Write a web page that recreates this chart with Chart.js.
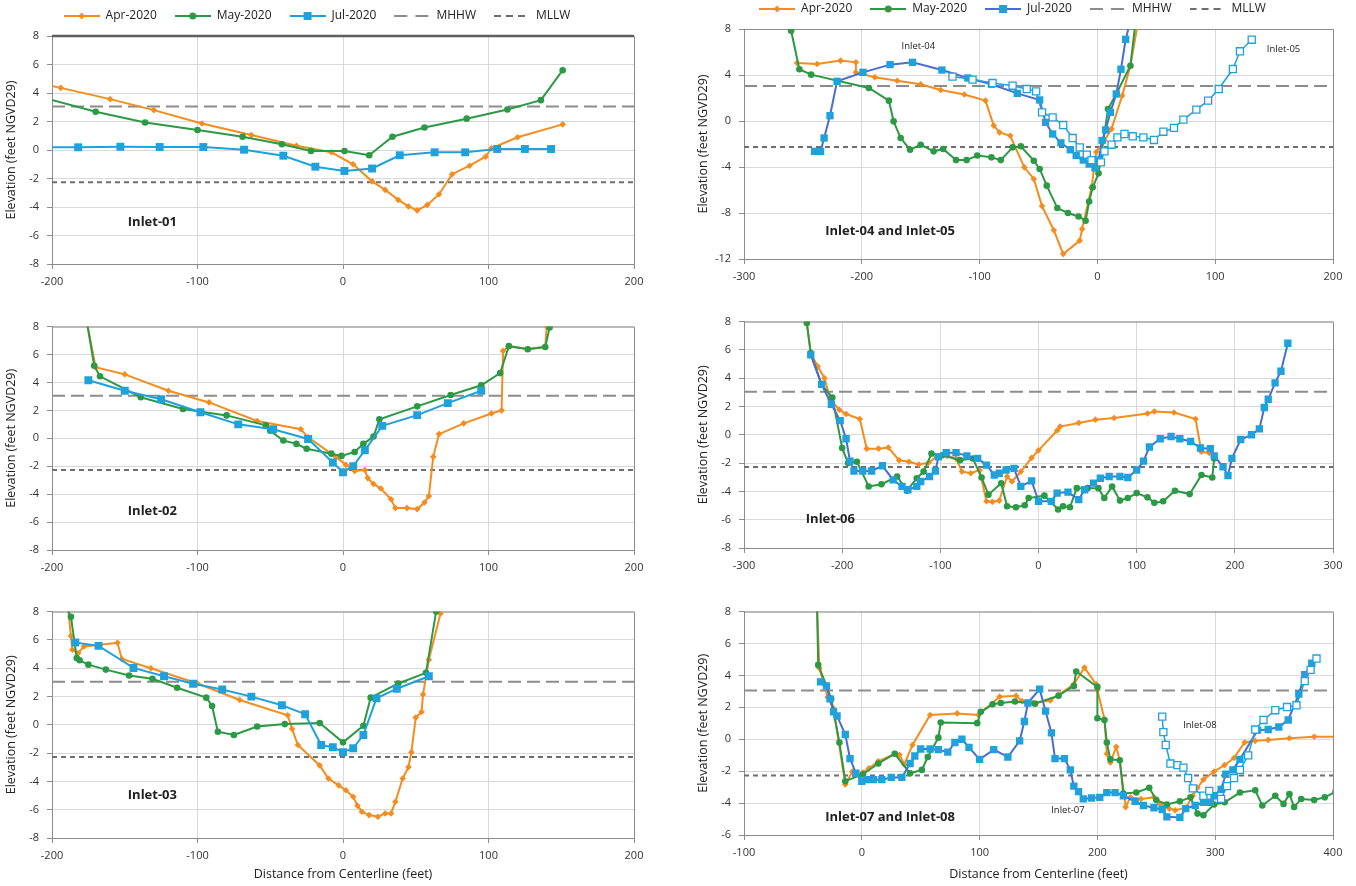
<!DOCTYPE html>
<html>
<head>
<meta charset="utf-8">
<script src="https://cdn.jsdelivr.net/npm/chart.js@4.4.1/dist/chart.umd.min.js"></script>
<style>
  html, body { margin: 0; padding: 0; background: #fff; width: 1356px; height: 886px; overflow: hidden; }
  canvas { position: absolute; }
</style>
</head>
<body>
<canvas id="inlet01"></canvas>
<canvas id="inlet0405"></canvas>
<canvas id="inlet02"></canvas>
<canvas id="inlet06"></canvas>
<canvas id="inlet03"></canvas>
<canvas id="inlet0708"></canvas>
<script>
// tidal datums (feet NGVD29)
const MHHW = 3.05;
const MLLW = -2.27;

const seriesNames = ['Apr-2020', 'May-2020', 'Jul-2020', 'MHHW', 'MLLW'];

// [distance from centerline, elevation]
const inlet01Apr = [[-205,4.6],[-194,4.36],[-160,3.57],[-130,2.8],[-97,1.86],[-63,1.05],[-32,0.3],[-8,-0.16],[7,-1.0],[20,-2.2],[29,-2.8],[38,-3.5],[45,-3.96],[51,-4.24],[58,-3.85],[66,-3.1],[75,-1.7],[87,-1.1],[98,-0.47],[102,0.12],[120,0.89],[151,1.8]];
const inlet01May = [[-205,3.65],[-170,2.68],[-136,1.93],[-100,1.4],[-69,0.93],[-42,0.4],[-22,-0.07],[1,-0.07],[18,-0.37],[34,0.93],[56,1.58],[85,2.2],[113,2.84],[136,3.5],[151,5.6]];
const inlet01Jul = [[-205,0.2],[-182,0.19],[-153,0.23],[-126,0.21],[-96,0.21],[-68,0.02],[-41,-0.4],[-19,-1.17],[1,-1.47],[20,-1.3],[39,-0.37],[63,-0.16],[84,-0.16],[106,0.07],[125,0.07],[143,0.07]];

const inlet02Apr = [[-176,8.3],[-170,5.09],[-150,4.58],[-120,3.41],[-92,2.57],[-59,1.24],[-29,0.65],[-24,0.07],[-5,-1.33],[2,-1.9],[8,-2.34],[15,-2.27],[17,-2.85],[21,-3.27],[26,-3.6],[33,-4.37],[36,-5.0],[44,-5.0],[51,-5.07],[56,-4.6],[59,-4.14],[62,-1.33],[66,0.3],[83,1.07],[102,1.78],[109,2.0],[110,6.26],[114,6.6],[127,6.4],[139,6.55],[140,8.0]];
const inlet02May = [[-176,8.3],[-171,5.2],[-167,4.44],[-139,2.94],[-110,2.1],[-80,1.64],[-53,0.93],[-50,0.54],[-41,-0.16],[-32,-0.4],[-25,-0.75],[-8,-1.1],[-1,-1.26],[8,-0.98],[14,-0.4],[21,0.12],[25,1.36],[51,2.29],[74,3.1],[95,3.8],[108,4.67],[114,6.6],[127,6.38],[139,6.54],[142,7.94]];
const inlet02Jul = [[-175,4.16],[-150,3.41],[-125,2.8],[-98,1.87],[-72,1.0],[-48,0.65],[-24,-0.05],[-7,-1.73],[0,-2.43],[7,-1.99],[15,-0.86],[27,0.89],[51,1.66],[72,2.52],[95,3.41]];

const inlet03Apr = [[-189,8.3],[-187,6.28],[-186,5.3],[-182,5.07],[-178,5.54],[-155,5.8],[-152,4.65],[-132,4.0],[-100,2.92],[-71,1.75],[-38,0.68],[-35,-0.3],[-31,-1.43],[-16,-2.87],[-10,-3.8],[-3,-4.28],[2,-4.63],[7,-5.09],[10,-5.72],[13,-6.14],[18,-6.38],[24,-6.5],[29,-6.26],[33,-6.26],[36,-5.44],[41,-3.8],[45,-2.99],[47,-1.94],[50,0.51],[54,0.91],[55,2.15],[59,4.6],[67,7.87]];
const inlet03May = [[-190,8.3],[-187,7.64],[-183,4.72],[-181,4.56],[-175,4.25],[-163,3.9],[-147,3.48],[-131,3.25],[-114,2.62],[-94,1.92],[-90,1.33],[-86,-0.49],[-75,-0.72],[-59,-0.12],[-40,0.05],[-16,0.12],[0,-1.24],[14,-0.07],[19,1.92],[38,2.92],[57,3.67],[64,8.0]];
const inlet03Jul = [[-184,5.82],[-168,5.58],[-144,4.02],[-123,3.43],[-103,2.9],[-83,2.5],[-63,1.99],[-42,1.38],[-26,0.75],[-15,-1.43],[-7,-1.59],[0,-1.94],[7,-1.66],[14,-0.72],[23,1.87],[37,2.55],[59,3.43]];

const inlet04Apr = [[-255,5.04],[-238,4.96],[-218,5.25],[-205,5.1],[-205,4.23],[-189,3.8],[-170,3.5],[-150,3.2],[-133,2.7],[-113,2.3],[-95,1.77],[-88,-0.4],[-83,-1.0],[-74,-1.28],[-62,-4.03],[-54,-5.04],[-47,-7.4],[-37,-9.5],[-29,-11.57],[-15,-10.4],[-13,-9.4],[-5,-5.8],[-1,-2.7],[6,-1.7],[12,-0.7],[21,2.2],[28,4.8],[34,8.3]];
const inlet04May = [[-261,8.3],[-260,7.85],[-253,4.5],[-243,4.03],[-194,2.87],[-177,1.77],[-173,-0.03],[-167,-1.48],[-159,-2.5],[-150,-2.06],[-139,-2.64],[-131,-2.43],[-120,-3.4],[-111,-3.4],[-102,-3.0],[-90,-3.16],[-82,-3.4],[-72,-2.29],[-65,-2.2],[-54,-3.45],[-49,-4.17],[-43,-5.62],[-34,-7.57],[-25,-8.0],[-16,-8.3],[-10,-8.67],[-7,-7.0],[-4,-5.77],[1,-4.55],[9,1.04],[16,2.35],[28,4.8],[32,8.3]];
const inlet04Jul = [[-240,-2.64],[-235,-2.64],[-232,-1.48],[-227,0.46],[-221,3.45],[-199,4.23],[-176,4.9],[-157,5.1],[-132,4.43],[-110,3.74],[-90,3.2],[-68,2.4],[-49,1.83],[-44,-0.12],[-38,-1.13],[-31,-1.9],[-23,-2.5],[-18,-3.0],[-12,-3.4],[-7,-3.74],[-2,-4.08],[1,-3.4],[4,-1.7],[7,-0.78],[11,0.75],[16,2.35],[20,4.5],[24,7.1],[27,8.3]];
const inlet05Jul = [[-123,3.86],[-106,3.6],[-89,3.3],[-72,3.07],[-60,2.78],[-52,2.58],[-47,0.75],[-38,0.32],[-29,-0.35],[-21,-1.48],[-15,-2.3],[-9,-2.93],[-5,-3.4],[3,-3.6],[6,-2.64],[12,-2.06],[17,-1.42],[23,-1.13],[30,-1.33],[39,-1.42],[48,-1.65],[56,-0.93],[65,-0.6],[73,0.12],[84,0.99],[94,1.77],[103,2.78],[115,4.52],[121,6.06],[131,7.07]];

const inlet06Apr = [[-236,7.9],[-232,5.77],[-225,4.84],[-218,4.0],[-212,2.5],[-203,1.77],[-196,1.47],[-182,1.12],[-175,-0.98],[-163,-0.98],[-153,-0.9],[-142,-1.8],[-132,-1.9],[-122,-2.1],[-112,-1.98],[-104,-1.56],[-93,-1.5],[-84,-1.67],[-78,-2.6],[-69,-2.72],[-60,-2.5],[-53,-4.7],[-47,-4.74],[-40,-4.65],[-32,-2.95],[-27,-3.3],[-18,-2.6],[-7,-1.63],[0,-1.1],[19,0.3],[22,0.58],[41,0.84],[58,1.07],[77,1.19],[111,1.51],[118,1.65],[138,1.58],[160,1.12],[166,-1.2],[174,-1.28]];
const inlet06May = [[-236,7.9],[-232,5.77],[-221,3.56],[-210,2.63],[-200,-0.93],[-194,-2.0],[-185,-1.9],[-173,-3.65],[-160,-3.49],[-144,-2.95],[-134,-3.95],[-124,-3.07],[-117,-2.6],[-109,-1.33],[-98,-1.44],[-80,-1.79],[-67,-1.67],[-58,-3.02],[-51,-4.23],[-38,-3.42],[-32,-5.05],[-23,-5.12],[-14,-4.98],[-10,-4.47],[6,-4.3],[20,-5.28],[25,-5.05],[32,-5.12],[39,-3.77],[50,-3.77],[61,-3.77],[67,-4.47],[75,-3.65],[83,-4.65],[91,-4.47],[100,-4.12],[111,-4.42],[118,-4.81],[127,-4.7],[139,-3.95],[154,-4.19],[166,-2.84],[177,-3.02],[179,-1.67]];
const inlet06Jul = [[-232,5.65],[-221,3.56],[-211,2.16],[-202,1.0],[-196,-0.28],[-192,-1.86],[-188,-2.56],[-179,-2.56],[-170,-2.56],[-159,-2.19],[-148,-3.19],[-139,-3.65],[-133,-3.88],[-124,-3.65],[-120,-3.3],[-111,-2.95],[-105,-2.56],[-102,-1.56],[-94,-1.26],[-84,-1.26],[-73,-1.49],[-62,-1.67],[-53,-2.14],[-45,-2.84],[-40,-2.72],[-33,-2.49],[-25,-2.37],[-18,-3.65],[-7,-3.26],[0,-4.7],[13,-4.7],[19,-4.12],[30,-4.05],[41,-4.58],[47,-3.88],[56,-3.42],[63,-3.07],[72,-2.95],[83,-2.95],[91,-3.02],[100,-2.49],[107,-1.86],[113,-0.86],[124,-0.28],[135,-0.12],[144,-0.28],[155,-0.47],[165,-0.93],[175,-0.98],[179,-1.49],[188,-2.26],[193,-2.88],[197,-1.67],[206,-0.33],[217,0],[225,0.42],[230,1.93],[234,2.51],[241,3.67],[247,4.49],[254,6.47]];

const inlet07Apr = [[-38,8.3],[-36,4.45],[-32,3.44],[-29,2.63],[-24,1.92],[-14,-2.83],[-8,-2.02],[-1,-2.27],[1,-2.08],[6,-1.82],[14,-1.38],[28,-0.91],[32,-0.97],[36,-1.58],[43,-0.36],[58,1.52],[81,1.62],[99,1.52],[117,2.67],[131,2.73],[136,2.39],[145,2.27],[160,2.43],[167,2.79],[180,3.44],[189,4.49],[199,3.44],[200,3.08],[206,1.26],[208,-0.91],[211,-1.46],[216,-0.47],[219,-1.32],[224,-4.25],[228,-3.64],[237,-3.74],[248,-3.64],[253,-4.05],[261,-4.35],[266,-4.45],[275,-4.29],[281,-3.54],[285,-3.04],[290,-2.53],[299,-2.02],[308,-1.62],[316,-1.17],[325,-0.2],[334,-0.1],[345,-0.04],[363,0.06],[384,0.16],[402,0.16]];
const inlet07May = [[-38,8.3],[-37,4.66],[-30,3.34],[-26,2.53],[-19,-0.2],[-14,-2.63],[1,-2.19],[14,-1.52],[28,-0.91],[41,-2.13],[51,-1.92],[56,-1.11],[65,0.1],[67,1.05],[98,1.01],[101,1.72],[111,2.19],[118,2.27],[130,2.37],[147,2.23],[167,2.73],[180,3.34],[182,4.25],[200,3.28],[200,1.32],[206,1.21],[208,-0.2],[211,-1.26],[219,-1.32],[222,-3.4],[233,-3.34],[244,-3.04],[250,-3.81],[259,-4.09],[270,-3.89],[279,-3.64],[285,-4.66],[290,-4.76],[299,-4.09],[308,-3.95],[321,-3.34],[334,-3.2],[340,-4.15],[351,-3.54],[358,-4.05],[363,-3.44],[367,-4.25],[373,-3.74],[384,-3.81],[393,-3.64],[402,-3.3]];
const inlet07Jul = [[-35,3.6],[-30,3.34],[-27,2.53],[-24,1.72],[-21,1.46],[-14,0.3],[-10,-1.21],[-5,-2.13],[0,-2.63],[4,-2.53],[10,-2.53],[17,-2.53],[25,-2.39],[34,-2.39],[41,-1.52],[45,-1.05],[50,-0.61],[58,-0.61],[65,-0.65],[73,-0.81],[79,-0.2],[85,0],[91,-0.51],[100,-1.26],[112,-0.65],[124,-1.11],[134,-0.1],[138,1.11],[141,2.27],[151,3.14],[156,1.76],[161,0.4],[164,-1.21],[172,-1.21],[177,-1.92],[180,-2.94],[184,-3.28],[188,-3.74],[195,-3.68],[202,-3.64],[208,-3.34],[215,-3.34],[222,-3.54],[232,-3.89],[239,-4.15],[248,-4.29],[255,-4.41],[259,-4.86],[270,-4.9],[275,-4.35],[283,-4.15],[290,-3.95],[296,-3.95],[299,-3.54],[305,-3.14],[309,-2.19],[315,-1.92],[321,-1.26],[336,0.57],[345,0.61],[354,0.77],[362,1.21],[371,2.83],[376,4.05],[382,4.76]];
const inlet08Jul = [[255,1.42],[256,0.45],[258,-0.36],[262,-1.52],[268,-1.62],[273,-1.78],[277,-2.43],[281,-3.08],[290,-3.54],[295,-3.24],[305,-3.74],[310,-2.94],[316,-2.43],[321,-1.92],[328,-1.01],[334,0.61],[341,1.21],[351,1.82],[361,2.02],[369,2.13],[376,3.64],[381,4.35],[386,5.06]];

// axis ranges: [min, max, step]
const xRange01 = [-200, 200, 100], yRange01 = [-8, 8, 2];
const xRange0405 = [-300, 200, 100], yRange0405 = [-12, 8, 4];
const xRange06 = [-300, 300, 100], yRange06 = [-8, 8, 2];
const xRange0708 = [-100, 400, 100], yRange0708 = [-6, 8, 2];

const ORANGE = '#F48C1E', GREEN = '#2C9945', CYAN = '#1FA1DC', BLUE = '#4A6DD2', GREY_HI = '#8C8C8C', GREY_LO = '#6E6E6E';
const FONT = "'Open Sans', 'DejaVu Sans', sans-serif";
Chart.defaults.font.family = FONT;

const pts = a => a.map(p => ({ x: p[0], y: p[1] }));

function apr(data) {
  return { label: seriesNames[0], data: pts(data), borderColor: ORANGE, backgroundColor: ORANGE, borderWidth: 2,
    pointStyle: 'rectRot', pointRadius: 3.3, pointBorderWidth: 0, order: 3, clip: 0 };
}
function may(data) {
  return { label: seriesNames[1], data: pts(data), borderColor: GREEN, backgroundColor: GREEN, borderWidth: 2,
    pointStyle: 'circle', pointRadius: 3.3, pointBorderWidth: 0, order: 2, clip: 0 };
}
function jul(data, lineColor, r) {
  return { label: seriesNames[2], data: pts(data), borderColor: lineColor, backgroundColor: CYAN, borderWidth: 2,
    pointStyle: 'rect', pointRadius: r, pointBorderColor: CYAN, pointBorderWidth: 0, order: 1, clip: 0 };
}
function julOpen(data) {
  return { label: 'Jul-2020 ', data: pts(data), borderColor: CYAN, backgroundColor: '#fff', borderWidth: 1.5,
    pointStyle: 'rect', pointRadius: 5, pointBorderColor: CYAN, pointBorderWidth: 1.3, order: 0, clip: 0 };
}
function tide(name, value, xr, color, dash) {
  return { label: name, data: [{ x: xr[0], y: value }, { x: xr[1], y: value }], borderColor: color,
    borderWidth: 2, borderDash: dash, pointRadius: 0, order: 4, clip: 0 };
}

function legendIcon(lineColor, marker, dash) {
  const c = document.createElement('canvas');
  c.width = 36; c.height = 12;
  const g = c.getContext('2d');
  g.strokeStyle = lineColor; g.lineWidth = 2;
  if (dash) g.setLineDash(dash);
  g.beginPath(); g.moveTo(0, 6); g.lineTo(36, 6); g.stroke();
  g.setLineDash([]);
  if (marker === 'diamond') { g.fillStyle = ORANGE; g.beginPath(); g.moveTo(18, 2.5); g.lineTo(21.5, 6); g.lineTo(18, 9.5); g.lineTo(14.5, 6); g.closePath(); g.fill(); }
  if (marker === 'circle') { g.fillStyle = GREEN; g.beginPath(); g.arc(18, 6, 3.5, 0, Math.PI * 2); g.fill(); }
  if (marker === 'square') { g.fillStyle = CYAN; g.fillRect(14, 2, 8, 8); }
  return c;
}

function legendItems(julLine) {
  const icons = [legendIcon(ORANGE, 'diamond'), legendIcon(GREEN, 'circle'), legendIcon(julLine, 'square'),
    legendIcon(GREY_HI, null, [13, 8]), legendIcon(GREY_LO, null, [7, 5])];
  return seriesNames.map((t, i) => ({ text: t, pointStyle: icons[i], fillStyle: 'transparent', strokeStyle: 'transparent',
    lineWidth: 0, hidden: false, datasetIndex: i, fontColor: '#222' }));
}

const framePlugin = {
  id: 'frame',
  beforeDatasetsDraw(chart) {
    const a = chart.chartArea, g = chart.ctx;
    g.save();
    g.strokeStyle = '#8C8C8C'; g.lineWidth = 1;
    g.beginPath();
    g.moveTo(a.left, a.top + 0.5); g.lineTo(a.right + 0.5, a.top + 0.5); g.lineTo(a.right + 0.5, a.bottom);
    g.stroke();
    if (chart.canvas.id === 'inlet01') {
      g.strokeStyle = '#5E5E5E'; g.lineWidth = 2.5;
      g.beginPath(); g.moveTo(a.left, a.top); g.lineTo(a.right, a.top); g.stroke();
    }
    g.restore();
  }
};

const legendGap = {
  id: 'legendGap',
  beforeInit(chart) {
    if (!chart.legend) return;
    const fit = chart.legend.fit;
    chart.legend.fit = function () { fit.call(this); this.height += 4; };
  }
};

function textPlugin(items) {
  return {
    id: 'inletText',
    afterDatasetsDraw(chart) {
      const g = chart.ctx, xs = chart.scales.x, ys = chart.scales.y;
      items.forEach(t => {
        g.save();
        g.font = t.font; g.fillStyle = '#222'; g.textAlign = 'center'; g.textBaseline = 'middle';
        g.fillText(t.text, xs.getPixelForValue(t.x), ys.getPixelForValue(t.y));
        g.restore();
      });
    }
  };
}

const BOLD = "bold 13px " + FONT, SMALL = "9.5px " + FONT;

function makePanel(id, box, xr, yr, datasets, texts, legendJul, xTitle) {
  const cl = box.L - 52, ct = box.T - (legendJul ? 43 : 10), cr = box.R + 22;
  const cb = xTitle ? 886 : box.B + 30;
  const cv = document.getElementById(id);
  cv.width = cr - cl; cv.height = cb - ct;
  cv.style.left = cl + 'px'; cv.style.top = ct + 'px';
  cv.style.width = (cr - cl) + 'px'; cv.style.height = (cb - ct) + 'px';
  const tickFont = { size: 11 }, grid = { color: '#D9D9D9', tickLength: 5, tickColor: '#8C8C8C' };
  new Chart(cv, {
    type: 'line',
    data: { datasets },
    options: {
      responsive: false, animation: false, devicePixelRatio: 1,
      layout: { padding: { top: legendJul ? 0 : 10, right: 22, left: 0, bottom: 0 } },
      scales: {
        x: {
          type: 'linear', min: xr[0], max: xr[1],
          afterFit: s => { s.height = cb - box.B; },
          ticks: { stepSize: xr[2], font: tickFont, color: '#333', padding: 6, maxRotation: 0 },
          grid, border: { color: '#8C8C8C' },
          title: { display: xTitle, text: 'Distance from Centerline (feet)', font: { size: 12.5 }, color: '#222', padding: { top: 4, bottom: 4 } }
        },
        y: {
          type: 'linear', min: yr[0], max: yr[1],
          afterFit: s => { s.width = 52; },
          ticks: { stepSize: yr[2], font: tickFont, color: '#333', padding: 8 },
          grid, border: { color: '#8C8C8C' },
          title: { display: true, text: 'Elevation (feet NGVD29)', font: { size: 12.5 }, color: '#222', padding: { top: 4, bottom: 4 } }
        }
      },
      plugins: {
        legend: {
          display: !!legendJul, position: 'top', align: 'center',
          labels: { usePointStyle: true, pointStyleWidth: 36, boxHeight: 11, padding: 18, color: '#222',
            font: { size: 12 }, generateLabels: () => legendItems(legendJul) }
        },
        tooltip: { enabled: false }
      }
    },
    plugins: [framePlugin, legendGap, textPlugin(texts)]
  });
}

makePanel('inlet01', { L: 52, R: 634, T: 35, B: 264 }, xRange01, yRange01,
  [apr(inlet01Apr), may(inlet01May), jul(inlet01Jul, CYAN, 5.6),
   tide('MHHW', MHHW, xRange01, GREY_HI, [13, 6]), tide('MLLW', MLLW, xRange01, GREY_LO, [5, 4])],
  [{ text: 'Inlet-01', x: -131, y: -5.07, font: BOLD }], CYAN, false);

makePanel('inlet0405', { L: 744, R: 1333, T: 28, B: 259 }, xRange0405, yRange0405,
  [apr(inlet04Apr), may(inlet04May), jul(inlet04Jul, BLUE, 5.2), julOpen(inlet05Jul),
   tide('MHHW', MHHW, xRange0405, GREY_HI, [13, 6]), tide('MLLW', MLLW, xRange0405, GREY_LO, [5, 4])],
  [{ text: 'Inlet-04', x: -152, y: 6.5, font: SMALL }, { text: 'Inlet-05', x: 158, y: 6.27, font: SMALL },
   { text: 'Inlet-04 and Inlet-05', x: -176, y: -9.6, font: BOLD }], BLUE, false);

makePanel('inlet02', { L: 52, R: 634, T: 322, B: 550 }, xRange01, yRange01,
  [apr(inlet02Apr), may(inlet02May), jul(inlet02Jul, CYAN, 5.6),
   tide('MHHW', MHHW, xRange01, GREY_HI, [13, 6]), tide('MLLW', MLLW, xRange01, GREY_LO, [5, 4])],
  [{ text: 'Inlet-02', x: -131, y: -5.26, font: BOLD }], null, false);

makePanel('inlet06', { L: 744, R: 1333, T: 317, B: 548 }, xRange06, yRange06,
  [apr(inlet06Apr), may(inlet06May), jul(inlet06Jul, BLUE, 5.2),
   tide('MHHW', MHHW, xRange06, GREY_HI, [13, 6]), tide('MLLW', MLLW, xRange06, GREY_LO, [5, 4])],
  [{ text: 'Inlet-06', x: -212, y: -5.94, font: BOLD }], null, false);

makePanel('inlet03', { L: 52, R: 634, T: 607, B: 838 }, xRange01, yRange01,
  [apr(inlet03Apr), may(inlet03May), jul(inlet03Jul, CYAN, 5.6),
   tide('MHHW', MHHW, xRange01, GREY_HI, [13, 6]), tide('MLLW', MLLW, xRange01, GREY_LO, [5, 4])],
  [{ text: 'Inlet-03', x: -131, y: -4.95, font: BOLD }], null, true);

makePanel('inlet0708', { L: 744, R: 1333, T: 607, B: 835 }, xRange0708, yRange0708,
  [apr(inlet07Apr), may(inlet07May), jul(inlet07Jul, BLUE, 5.2), julOpen(inlet08Jul),
   tide('MHHW', MHHW, xRange0708, GREY_HI, [13, 6]), tide('MLLW', MLLW, xRange0708, GREY_LO, [5, 4])],
  [{ text: 'Inlet-08', x: 287, y: 0.88, font: SMALL }, { text: 'Inlet-07', x: 175, y: -4.46, font: SMALL },
   { text: 'Inlet-07 and Inlet-08', x: 24, y: -4.9, font: BOLD }], null, true);
</script>
</body>
</html>
